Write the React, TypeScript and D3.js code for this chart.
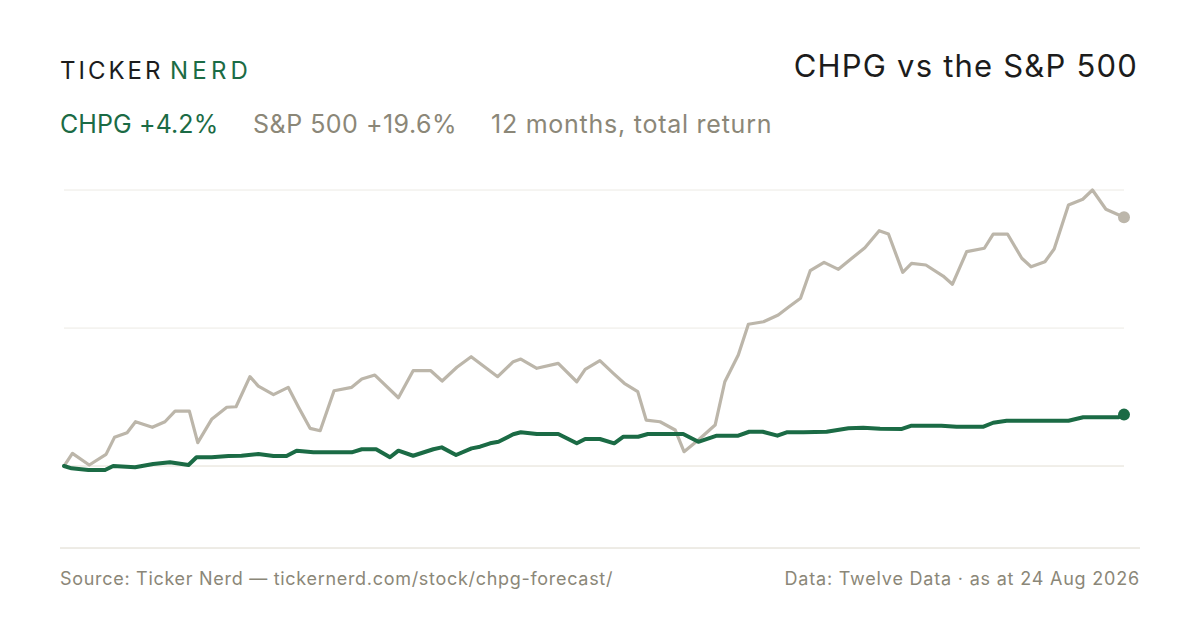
import React from "react";
import * as d3 from "d3";

const spxDays = [0, 2, 6, 10, 12, 15, 17, 21, 24, 26.4, 29.8, 31.8, 35.1, 38.7, 40.9, 44.2, 46.2, 49.8, 53.3, 55.7, 58.5, 60.9, 64.2, 68.4, 70.8, 73.9, 79.5, 83.0, 87.2, 89.9, 93.4, 96.8, 103.1, 106.8, 108.6, 112.4, 117.5, 121.9, 123.9, 127.4, 130.6, 133.2, 136.4, 138.4, 141.7, 145.3, 147.4, 150.8, 154.8, 157.1, 160.3, 162.7, 166.3, 169.8, 172.2, 175.1, 177.4, 180.7, 184.1, 187.3, 190.4, 193.8, 196.0, 199.4, 201.5, 204.9, 209.0, 211.2, 214.6, 218.8, 220.9, 224.3, 227.7, 229.9, 233.2, 235.4, 238.8, 242.2, 244.5, 247.7, 252];
const spxValues = [0, 1.0, 0.08, 0.92, 2.26, 2.62, 3.49, 3.05, 3.49, 4.33, 4.33, 1.84, 3.68, 4.63, 4.67, 7.04, 6.3, 5.63, 6.2, 4.67, 2.97, 2.78, 5.93, 6.2, 6.86, 7.17, 5.38, 7.51, 7.51, 6.7, 7.78, 8.61, 7.04, 8.22, 8.43, 7.7, 8.09, 6.64, 7.62, 8.3, 7.3, 6.52, 5.86, 3.62, 3.49, 2.84, 1.13, 2.05, 3.23, 6.64, 8.75, 11.17, 11.37, 11.9, 12.51, 13.22, 15.39, 16.05, 15.5, 16.37, 17.2, 18.54, 18.28, 15.26, 15.97, 15.84, 14.97, 14.32, 16.89, 17.16, 18.28, 18.28, 16.37, 15.7, 16.1, 17.1, 20.57, 21.02, 21.75, 20.23, 19.6];

const chpgDays = [0, 1.8, 5.8, 9.75, 11.7, 16.9, 21.2, 25.2, 29.6, 31.5, 35.1, 39.1, 42.2, 46.2, 49.8, 52.9, 55.3, 59.3, 68.4, 70.8, 74.2, 77.5, 79.5, 83.0, 87.8, 89.8, 93.2, 96.9, 98.9, 101.3, 103.3, 106.8, 108.6, 112.4, 117.5, 121.9, 123.9, 127.4, 130.8, 133.0, 136.5, 138.8, 147.2, 150.8, 155.2, 160.3, 162.9, 166.1, 169.6, 171.8, 175.8, 181.3, 186.5, 190.0, 194.0, 199.2, 201.5, 208.6, 212.2, 218.6, 220.9, 224.1, 238.8, 242.3, 250.7, 252];
const chpgValues = [0, -0.18, -0.32, -0.32, 0, -0.1, 0.16, 0.29, 0.08, 0.69, 0.69, 0.79, 0.81, 0.95, 0.79, 0.79, 1.21, 1.08, 1.08, 1.32, 1.32, 0.69, 1.21, 0.81, 1.32, 1.47, 0.87, 1.39, 1.52, 1.79, 1.91, 2.5, 2.66, 2.52, 2.52, 1.79, 2.13, 2.13, 1.79, 2.31, 2.31, 2.52, 2.52, 1.91, 2.39, 2.39, 2.7, 2.7, 2.39, 2.66, 2.66, 2.7, 2.97, 3.02, 2.94, 2.92, 3.18, 3.18, 3.1, 3.1, 3.41, 3.57, 3.57, 3.84, 3.84, 4.05];

const gridValues = [0, 10.87, 21.75];
const yDomain = [-6.46, 21.75];
const dayDomain = [0, 252];

const GREEN = "#1b6b45";
const SPX = "#bcb6aa";
const MUTED = "#8b8778";
const INK = "#1c1c1c";
const FONT = "Inter, 'Noto Sans', sans-serif";

export default function App() {
  const x = d3.scaleLinear().domain(dayDomain).range([64, 1124]);
  const y = d3.scaleLinear().domain(yDomain).range([548, 190]);
  const line = d3
    .line<[number, number]>()
    .x((d) => x(d[0]))
    .y((d) => y(d[1]));
  const spx: [number, number][] = spxDays.map((d, i) => [d, spxValues[i]]);
  const chpg: [number, number][] = chpgDays.map((d, i) => [d, chpgValues[i]]);
  const spxLast = spx[spx.length - 1];
  const chpgLast = chpg[chpg.length - 1];

  return (
    <div style={{ position: "fixed", left: 0, top: 0 }}>
      <svg width={1200} height={630} style={{ display: "block", background: "#fff" }} fontFamily={FONT}>
        <text x={60} y={79} fontSize={24} letterSpacing={3} fill={INK}>
          TICKER
        </text>
        <text x={170} y={79} fontSize={24} letterSpacing={4.2} fill={GREEN}>
          NERD
        </text>
        <text x={1138} y={77} fontSize={31} letterSpacing={1.2} textAnchor="end" fill={INK}>
          CHPG vs the S&amp;P 500
        </text>
        <text x={60} y={133} fontSize={25} letterSpacing={0.1} fill={GREEN}>
          CHPG +4.2%
        </text>
        <text x={253} y={133} fontSize={25} letterSpacing={0.5} fill={MUTED}>
          S&amp;P 500 +19.6%
        </text>
        <text x={491} y={133} fontSize={25} letterSpacing={0.75} fill={MUTED}>
          12 months, total return
        </text>

        {gridValues.map((v, i) => (
          <line
            key={i}
            x1={x(dayDomain[0])}
            x2={x(dayDomain[1])}
            y1={y(v)}
            y2={y(v)}
            stroke={v === 0 ? "#e2ded3" : "#eceae4"}
            strokeWidth={1}
          />
        ))}
        <line x1={60} x2={1140} y1={y(yDomain[0])} y2={y(yDomain[0])} stroke="#dcd8cc" strokeWidth={1} />

        <path d={line(spx) || ""} fill="none" stroke={SPX} strokeWidth={3.2} strokeLinejoin="round" strokeLinecap="round" />
        <path d={line(chpg) || ""} fill="none" stroke={GREEN} strokeWidth={4} strokeLinejoin="round" strokeLinecap="round" />
        <circle cx={x(spxLast[0])} cy={y(spxLast[1])} r={6} fill={SPX} />
        <circle cx={x(chpgLast[0])} cy={y(chpgLast[1])} r={6} fill={GREEN} />

        <text x={60} y={585} fontSize={18} letterSpacing={0.7} fill={MUTED}>
          Source: Ticker Nerd — tickernerd.com/stock/chpg-forecast/
        </text>
        <text x={1140} y={585} fontSize={18} letterSpacing={0.8} textAnchor="end" fill={MUTED}>
          Data: Twelve Data · as at 24 Aug 2026
        </text>
      </svg>
    </div>
  );
}
